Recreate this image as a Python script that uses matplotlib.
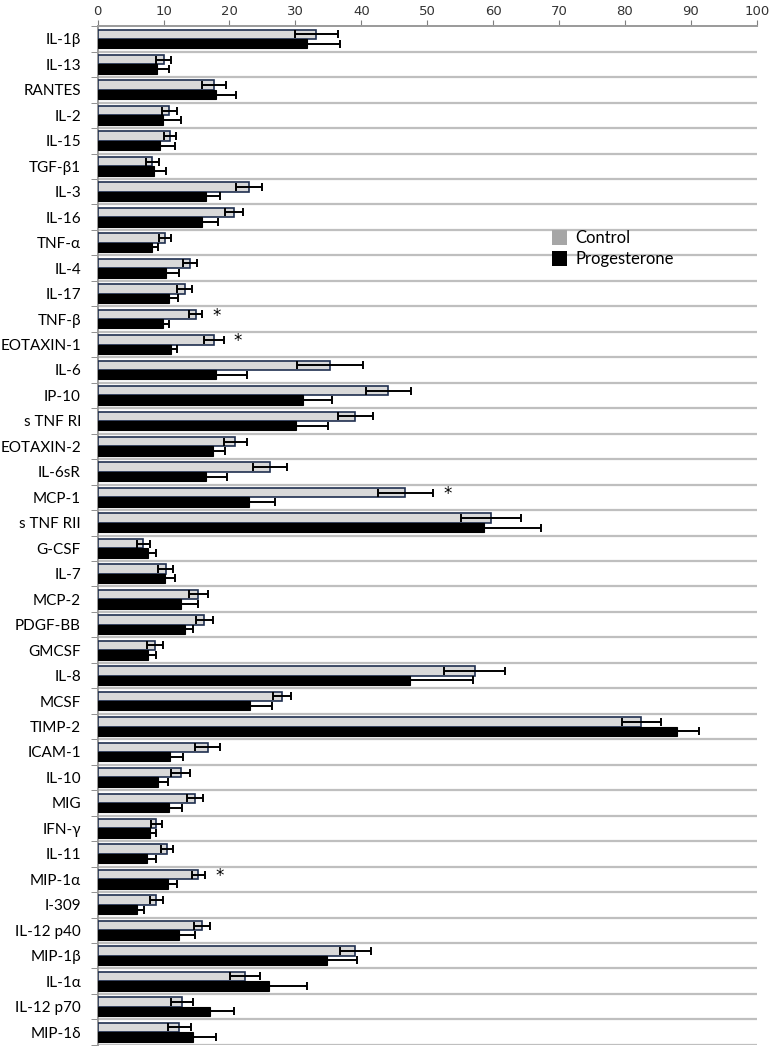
import numpy as np
import matplotlib
matplotlib.use("Agg")
import matplotlib.pyplot as plt
from matplotlib.patches import Patch

cytokines = ["IL-1β", "IL-13", "RANTES", "IL-2", "IL-15", "TGF-β1", "IL-3", "IL-16",
             "TNF-α", "IL-4", "IL-17", "TNF-β", "EOTAXIN-1", "IL-6", "IP-10", "s TNF RI",
             "EOTAXIN-2", "IL-6sR", "MCP-1", "s TNF RII", "G-CSF", "IL-7", "MCP-2", "PDGF-BB",
             "GMCSF", "IL-8", "MCSF", "TIMP-2", "ICAM-1", "IL-10", "MIG", "IFN-γ", "IL-11",
             "MIP-1α", "I-309", "IL-12 p40", "MIP-1β", "IL-1α", "IL-12 p70", "MIP-1δ"]

control = [33.2, 10.0, 17.7, 10.9, 11.0, 8.3, 23.0, 20.7,
           10.2, 14.0, 13.2, 14.9, 17.6, 35.2, 44.1, 39.1,
           20.9, 26.2, 46.7, 59.7, 6.9, 10.3, 15.3, 16.2,
           8.7, 57.2, 28.0, 82.5, 16.7, 12.6, 14.8, 8.9, 10.5,
           15.3, 8.9, 15.8, 39.1, 22.4, 12.8, 12.4]
control_err = [3.2, 1.1, 1.8, 1.1, 0.9, 1.0, 2.0, 1.4,
               0.9, 1.1, 1.1, 1.0, 1.5, 5.0, 3.4, 2.7,
               1.7, 2.6, 4.2, 4.5, 1.0, 1.1, 1.4, 1.3,
               1.2, 4.6, 1.4, 3.0, 1.9, 1.4, 1.2, 0.8, 0.9,
               1.0, 1.0, 1.2, 2.4, 2.3, 1.6, 1.7]

progesterone = [31.7, 9.0, 18.0, 9.9, 9.5, 8.6, 16.5, 15.8,
                8.2, 10.3, 10.8, 9.9, 11.1, 18.0, 31.2, 30.1,
                17.5, 16.5, 23.0, 58.6, 7.7, 10.2, 12.7, 13.2,
                7.6, 47.4, 23.1, 87.9, 11.0, 9.1, 10.8, 7.9, 7.5,
                10.7, 6.0, 12.4, 34.8, 26.0, 17.1, 14.4]
progesterone_err = [5.0, 1.9, 3.0, 2.8, 2.3, 1.8, 2.1, 2.4,
                    0.9, 2.1, 1.4, 0.9, 1.0, 4.6, 4.3, 4.9,
                    1.8, 3.1, 3.9, 8.6, 1.2, 1.6, 2.6, 1.2,
                    1.2, 9.5, 3.3, 3.3, 1.9, 1.5, 2.0, 1.0, 1.3,
                    1.4, 1.0, 2.4, 4.6, 5.8, 3.6, 3.5]

significant = ["TNF-β", "EOTAXIN-1", "MCP-1", "MIP-1α"]

y = np.arange(len(cytokines))
h = 0.37

fig = plt.figure(figsize=(7.69, 10.48), dpi=100)
ax = fig.add_axes([0.127, 0.003, 0.857, 0.972])

ax.barh(y - h / 2, control, height=h, color="#d9d9d9", edgecolor="#1f2f4f", linewidth=1.2, zorder=3)
ax.barh(y + h / 2, progesterone, height=h, color="black", edgecolor="black", linewidth=0.8, zorder=3)
ax.errorbar(control, y - h / 2, xerr=control_err, fmt="none", ecolor="black",
            elinewidth=1.4, capsize=3, capthick=1.4, zorder=4)
ax.errorbar(progesterone, y + h / 2, xerr=progesterone_err, fmt="none", ecolor="black",
            elinewidth=1.4, capsize=3, capthick=1.4, zorder=4)

for name in significant:
    i = cytokines.index(name)
    ax.text(control[i] + control_err[i] + 2.2, i - h / 2 + 0.05, "*", ha="center", va="center",
            fontsize=12, family="DejaVu Sans")

# row separators
for b in np.arange(len(cytokines)) + 0.5:
    ax.axhline(b, color="#bfbfbf", linewidth=1.6, zorder=1)

ax.set_xlim(0, 100)
ax.set_ylim(len(cytokines) - 0.5, -0.5)
ax.xaxis.tick_top()
ax.set_xticks(np.arange(0, 101, 10))
ax.tick_params(axis="x", direction="out", length=4, color="#7f7f7f", labelsize=9.5,
               labelcolor="#333333", pad=2)
ax.set_yticks(y)
ax.set_yticklabels(cytokines, fontsize=11, family="Lato")
ax.set_yticks(np.arange(-0.5, len(cytokines), 1), minor=True)
ax.tick_params(axis="y", which="major", length=0, pad=12)
ax.tick_params(axis="y", which="minor", length=5, color="#7f7f7f", direction="out")

for s in ["right", "bottom"]:
    ax.spines[s].set_visible(False)
ax.spines["top"].set_color("#9a9a9a")
ax.spines["top"].set_linewidth(1.4)
ax.spines["left"].set_color("#9a9a9a")
ax.spines["left"].set_linewidth(1.4)

handles = [Patch(facecolor="#a6a6a6", edgecolor="none", label="Control"),
           Patch(facecolor="black", edgecolor="none", label="Progesterone")]
ax.legend(handles=handles, loc="upper left", bbox_to_anchor=(0.69, 0.80), frameon=False,
          borderpad=0, borderaxespad=0, handlelength=0.9, handleheight=1.0,
          handletextpad=0.5, labelspacing=0.3, prop={"family": "Lato", "size": 12})

fig.savefig("out.png", dpi=100)
plt.close(fig)
